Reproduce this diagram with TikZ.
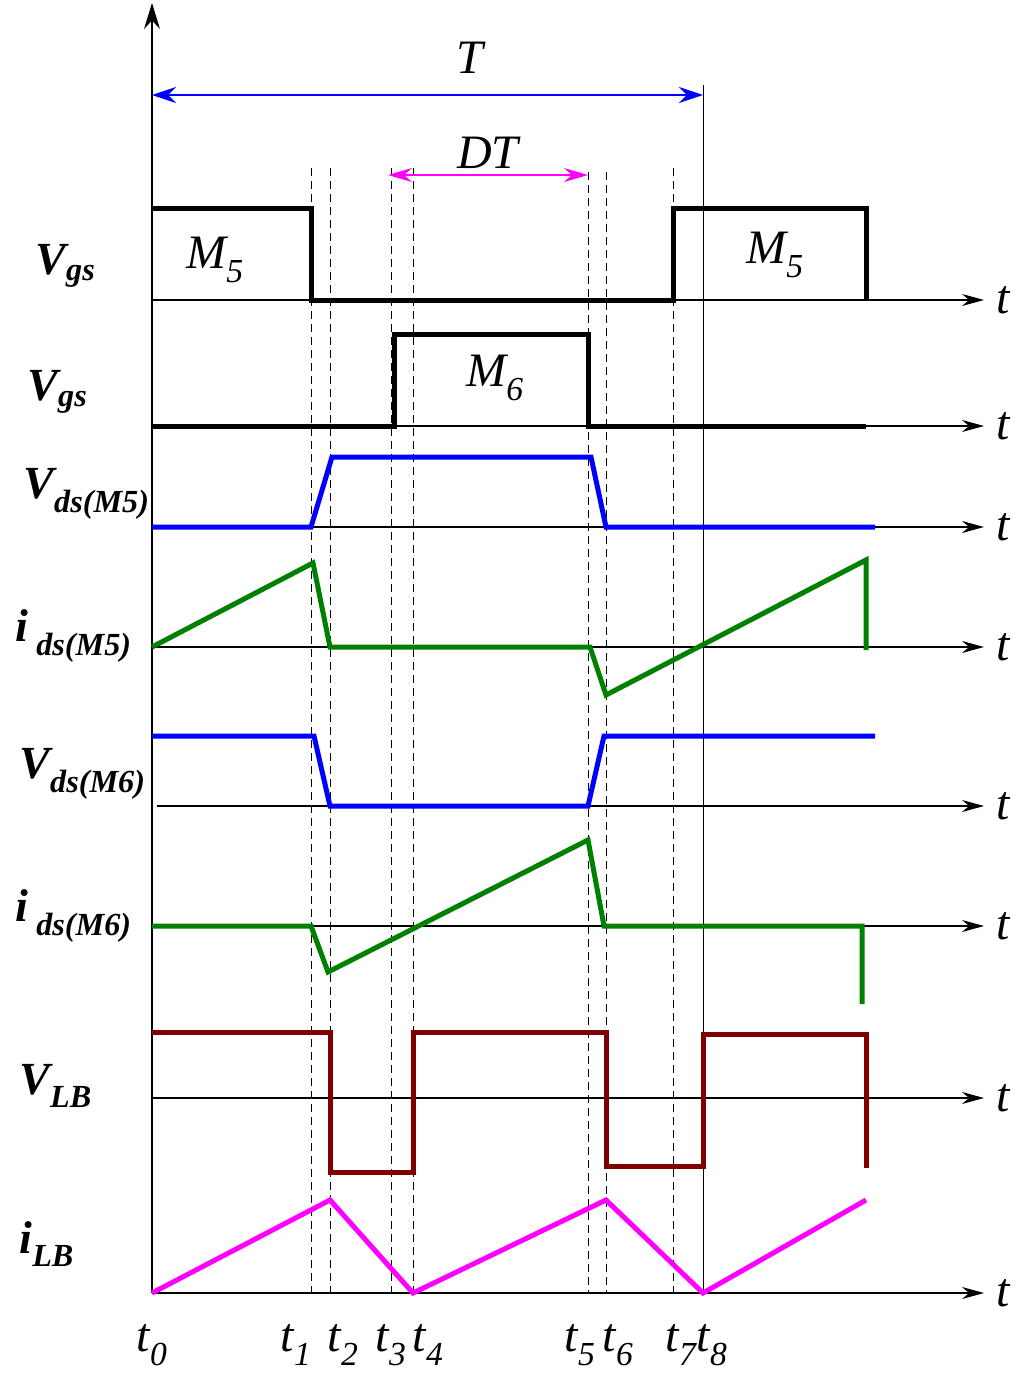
\documentclass[tikz,border=0pt]{standalone}
\usepackage{fontspec}
\setmainfont{Liberation Serif}
\newfontfamily\tms{Liberation Serif}
\usetikzlibrary{arrows.meta}
\definecolor{grn}{RGB}{0,128,0}
\definecolor{brn}{RGB}{128,0,0}
\definecolor{mag}{RGB}{255,0,255}
\definecolor{blu}{RGB}{0,0,255}
\tikzset{ax/.style={line width=1.2pt,-{Stealth[length=22pt,width=12pt]}},
 sig/.style={line width=5pt,line join=miter},
 dsh/.style={line width=1pt,dash pattern=on 8pt off 5pt},
 lab/.style={font=\tms\fontsize{46}{46}\selectfont\bfseries\itshape,anchor=west},
 tl/.style={font=\tms\fontsize{48}{48}\selectfont\itshape}}
\begin{document}
\begin{tikzpicture}[x=1pt,y=-1pt]
\useasboundingbox (0,0) rectangle (1024,1379);
% axes
\draw[line width=1.2pt,-{Stealth[length=26pt,width=16pt]}] (152,1293) -- (152,3);
\foreach \y/\s in {300/152,426/152,527/152,647/152,806/157,926/152,1098/152,1293/152}
  \draw[ax] (\s,\y) -- (984,\y);
\foreach \y in {300,426,527,647,806,926,1098,1293}
  \node[tl] at (1003,\y) {t};
% dashed lines
\foreach \x/\a in {311/168,330/168,391/168,413/168,588/172,606/172,673/168}
  \draw[dsh] (\x,\a) -- (\x,1293);
\draw[line width=1pt] (703,85) -- (703,1293);
% T and DT
\draw[blu,line width=1.2pt,{Stealth[length=24pt,width=16pt]}-{Stealth[length=24pt,width=16pt]}] (152,95) -- (703,95);
\node[tl] at (470,58) {T};
\draw[mag,line width=1.2pt,{Stealth[length=24pt,width=14pt]}-{Stealth[length=24pt,width=14pt]}] (388,175) -- (588,175);
\node[tl] at (488,153) {DT};
% signals
\draw[sig] (152,208) -- (311,208) -- (311,300) -- (673,300) -- (673,208) -- (866,208) -- (866,300);
\draw[sig] (152,426) -- (394,426) -- (394,334) -- (588,334) -- (588,426) -- (866,426);
\draw[sig,blu] (152,527) -- (311,527) -- (332,457) -- (591,457) -- (606,527) -- (875,527);
\draw[sig,grn] (152,647) -- (313,563) -- (330,647) -- (590,647) -- (606,695) -- (866,560) -- (866,650);
\draw[sig,blu] (152,736) -- (314,736) -- (330,806) -- (588,806) -- (604,736) -- (875,736);
\draw[sig,grn] (152,926) -- (311,926) -- (328,972) -- (588,840) -- (604,926) -- (862,926) -- (862,1004);
\draw[sig,brn] (152,1032) -- (330,1032) -- (330,1172) -- (413,1172) -- (413,1032) -- (606,1032) -- (606,1166) -- (703,1166) -- (703,1034) -- (866,1034) -- (866,1168);
\draw[sig,mag] (152,1293) -- (330,1200) -- (413,1293) -- (606,1200) -- (703,1293) -- (866,1200);
% region labels
\node[tl] at (215,260) {M\textsubscript{5}};
\node[tl] at (775,255) {M\textsubscript{5}};
\node[tl] at (495,378) {M\textsubscript{6}};
% row labels
\node[lab] at (32,266) {V\textsubscript{gs}};
\node[lab] at (24,392) {V\textsubscript{gs}};
\node[lab] at (20,494) {V\textsubscript{ds(M5)}};
\node[lab] at (12,636) {i\textsubscript{ ds(M5)}};
\node[lab] at (16,774) {V\textsubscript{ds(M6)}};
\node[lab] at (12,916) {i\textsubscript{ ds(M6)}};
\node[lab] at (16,1086) {V\textsubscript{LB}};
\node[lab] at (16,1244) {i\textsubscript{LB}};
% time labels
\foreach \x/\n in {152/0,296/1,343/2,391/3,428/4,580/5,618/6,681/7,712/8}
  \node[tl] at (\x,1345) {t\textsubscript{\n}};
\end{tikzpicture}
\end{document}
